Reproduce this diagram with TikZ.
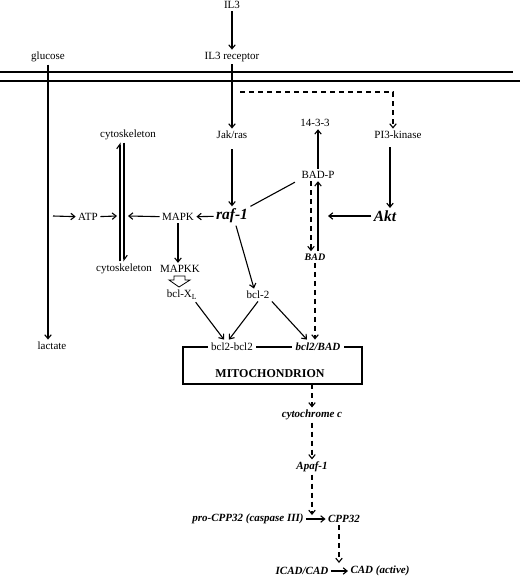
\documentclass[tikz,border=0pt]{standalone}
\usepackage{fontspec}
\setmainfont{Liberation Serif}
\usetikzlibrary{arrows.meta}

\begin{document}
\begin{tikzpicture}[x=1pt,y=-1pt,line width=1.1pt,
  lbl/.style={font=\fontsize{11}{13}\selectfont,inner sep=2pt},
  bi/.style={font=\fontsize{11}{13}\selectfont\bfseries\itshape,inner sep=2pt},
  big/.style={font=\fontsize{15.5}{18}\selectfont\bfseries\itshape,inner sep=2pt},
  arr/.style={-{Straight Barb[length=4pt,width=6.5pt]}},
  dasharr/.style={arr,dash pattern=on 5pt off 4pt},
  harp/.style={-{Straight Barb[length=4.5pt,width=6.5pt,harpoon]}}]
\useasboundingbox (0,0) rectangle (520,576);
% membrane
\draw (0,72) -- (513,72);
\draw (0,81) -- (520,81);
% nodes
\node[lbl] (il3) at (232,5) {IL3};
\node[lbl] (il3r) at (232,57) {IL3 receptor};
\node[lbl] (gluc) at (48,57) {glucose};
\node[lbl] (jak) at (232,135) {Jak/ras};
\node[lbl] (pi3) at (398,135) {PI3-kinase};
\node[lbl] (n1433) at (315,123) {14-3-3};
\node[lbl] (cyt1) at (128,135) {cytoskeleton};
\node[lbl] (badp) at (318,175) {BAD-P};
\node[lbl] (atp) at (88,217) {ATP};
\node[lbl] (mapk) at (178,217) {MAPK};
\node[big] (raf) at (232,216) {raf-1};
\node[big] (akt) at (385,216) {Akt};
\node[bi,font=\fontsize{10}{12}\selectfont\bfseries\itshape] (bad) at (315,257) {BAD};
\node[lbl] (cyt2) at (124,269) {cytoskeleton};
\node[lbl] (mapkk) at (180,269) {MAPKK};
\node[lbl] (bclxl) at (182,295) {bcl-X\textsubscript{L}};
\node[lbl] (bcl2) at (258,295) {bcl-2};
\node[lbl] (lact) at (52,346) {lactate};
\node[lbl,inner sep=3pt] (bb) at (232,347) {bcl2-bcl2};
\node[bi,inner sep=3pt] (bbad) at (318,347) {bcl2/BAD};
\node[font=\fontsize{12}{14}\selectfont\bfseries] (mito) at (270,374) {MITOCHONDRION};
\node[bi] (cytc) at (312,415) {cytochrome c};
\node[bi] (apaf) at (312,467) {Apaf-1};
\node[bi] (pro) at (248,519) {pro-CPP32 (caspase III)};
\node[bi] (cpp) at (344,519) {CPP32};
\node[bi] (icad) at (302,571) {ICAD/CAD};
\node[bi] (cad) at (380,571) {CAD (active)};
% free ends and line positions
\coordinate (dstart) at (240,92);
\coordinate (atpin) at (53,216);
\coordinate (atpend) at (117,216);
\coordinate (mapkend) at (128,216);
\coordinate (aktend) at (328,216);
\coordinate (cl) at (120,0); \coordinate (cr) at (124,0);
\coordinate (dl) at (311,0); \coordinate (sl) at (318,0);
\coordinate (pl) at (390,0); \coordinate (vl) at (393,0);
\coordinate (mitob) at (312,384);
\coordinate (proj) at (312,515);
\coordinate (icadj) at (339,563);
% connectors
\draw[arr] (il3) -- (il3r);
\draw[arr] (il3r) -- (jak);
\draw[dasharr] (dstart) -| (pi3.north -| vl);
\draw[arr] (gluc) -- (gluc.south |- lact.north);
\draw[arr] (atpin) -- (atp);
\draw[arr] (atp) -- (atpend);
\draw[harp] (cyt2.north -| cl) -- (cyt1.south -| cl);
\draw[harp] (cyt1.south -| cr) -- (cyt2.north -| cr);
\draw[arr] (mapk) -- (mapkend);
\draw[arr] (raf) -- (mapk);
\draw[arr,shorten <=8pt] (jak) -- (raf);
\draw ([xshift=-4pt,yshift=-1pt]badp.south west) -- (raf.north east);
\draw[arr] (badp) -- (badp.north |- n1433.south);
\draw[dasharr] (badp.south -| dl) -- (bad.north -| dl);
\draw[arr] (bad.north -| sl) -- (badp.south -| sl);
\draw[arr,shorten <=6pt] (pi3.south -| pl) -- (akt.north -| pl);
\draw[arr] (akt) -- (aktend);
\draw[arr] (mapk) -- (mapk.south |- mapkk.north);
\draw[line width=0.8pt] (174,276) -- (185,276) -- (185,280) -- (190,280) -- (179,287)
  -- (169,280) -- (174,280) -- cycle;
\draw[arr] ([xshift=4pt]raf.south) -- ([xshift=-4pt]bcl2.north);
\draw[arr] ([xshift=-4pt]bclxl.south east) -- ([xshift=-8pt]bb.north);
\draw[arr] (bcl2.south) -- ([xshift=-3pt]bb.north);
\draw[arr] (bcl2.south east) -- ([xshift=-11pt]bbad.north);
\draw[dasharr] (bad) -- (bad.south |- bbad.north);
% mitochondrion box
\draw (bb.west) -- (183,347) -- (183,384) -- (362,384) -- (362,347) -- (bbad.east);
\draw (bb.east) -- (bbad.west);
% caspase cascade
\draw[dasharr] (mitob) -- (cytc);
\draw[dasharr] (cytc) -- (apaf);
\draw[dasharr] (apaf) -- (proj);
\draw[arr] (pro) -- (cpp);
\draw[dasharr] ([xshift=-5pt]cpp.south) -- (icadj);
\draw[arr] (icad) -- (cad);
\end{tikzpicture}
\end{document}
